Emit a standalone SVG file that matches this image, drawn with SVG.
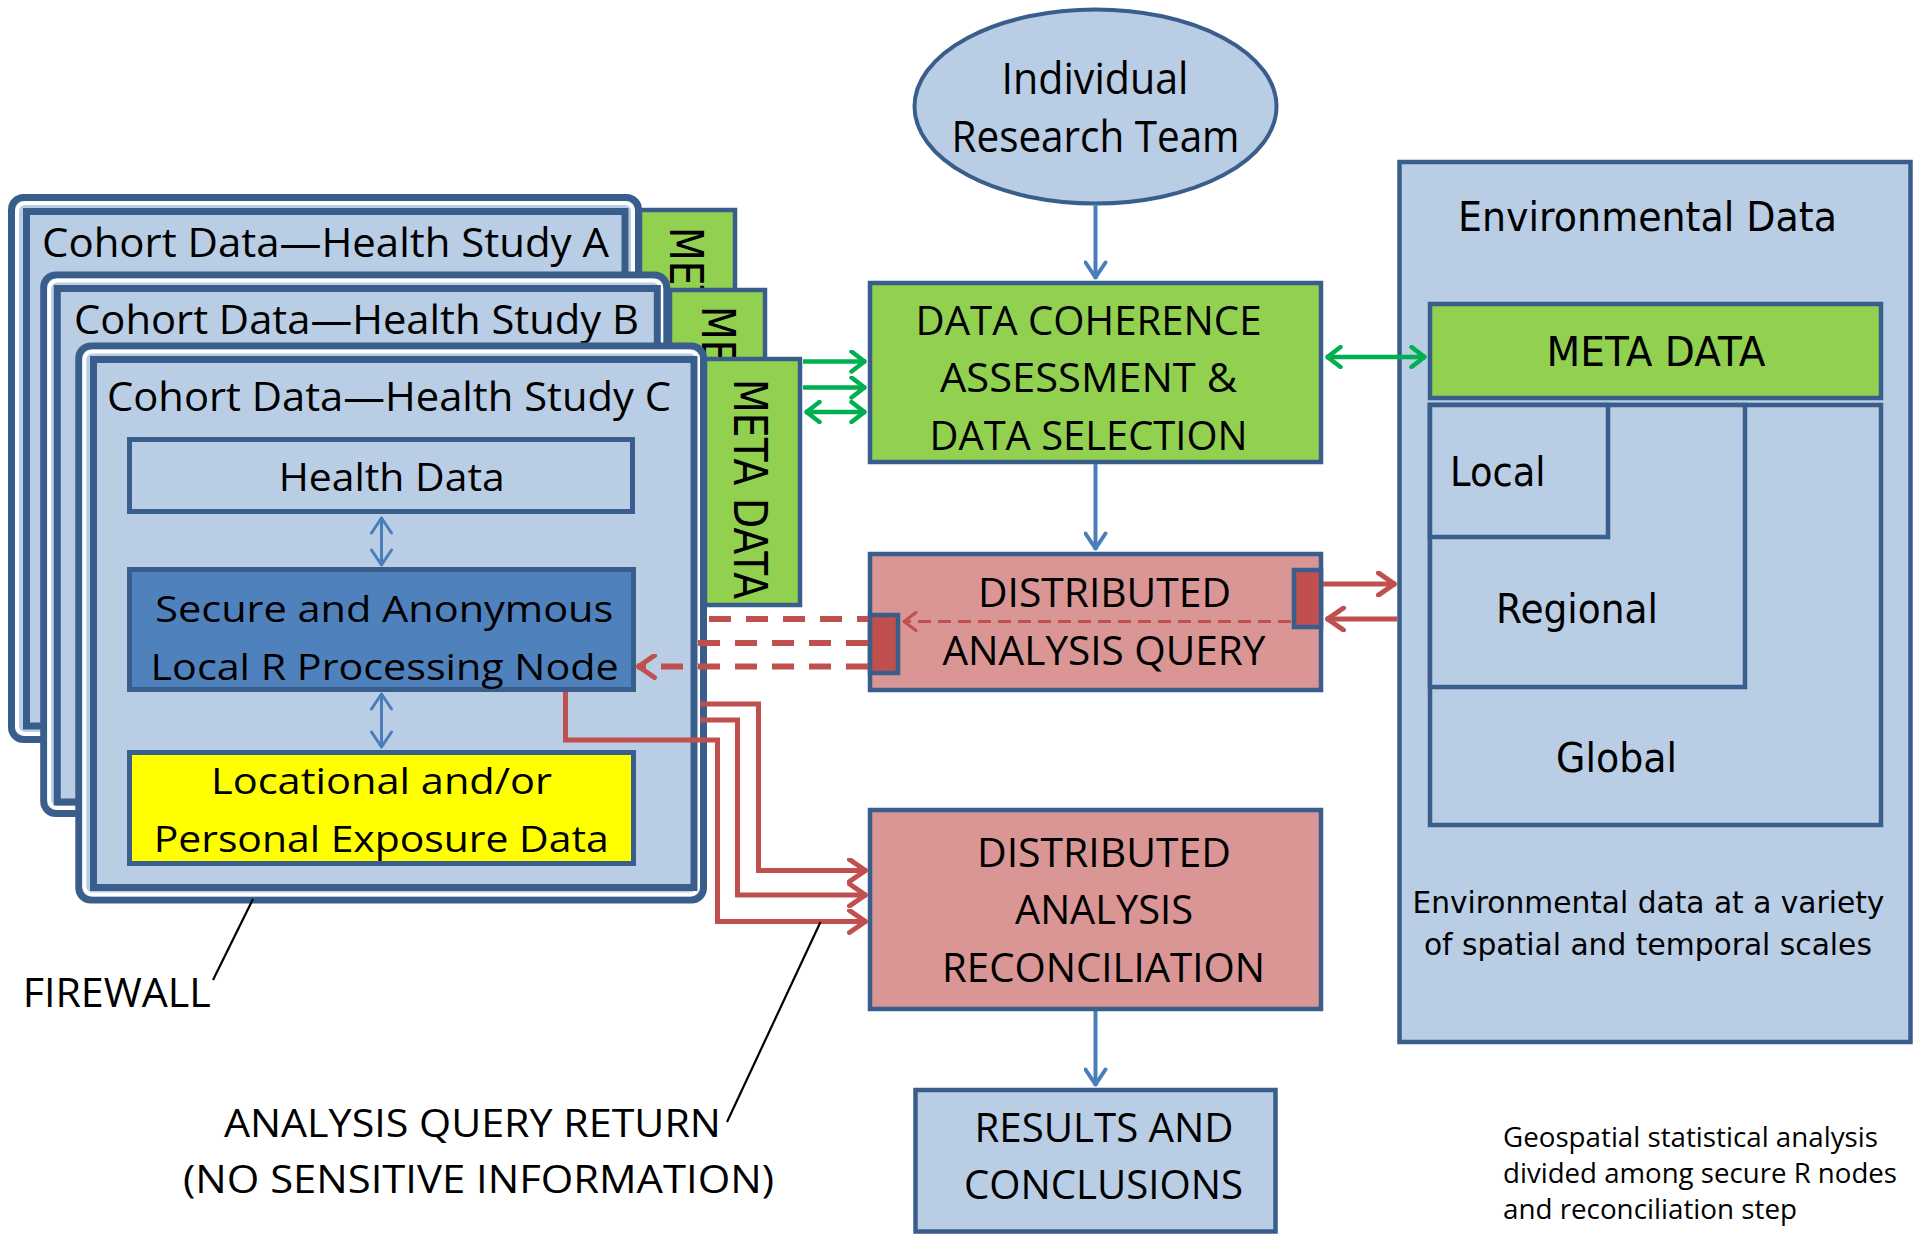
<svg xmlns="http://www.w3.org/2000/svg" width="1915" height="1237" viewBox="0 0 1915 1237">
<style>
.box{stroke:#3A5E8C;stroke-width:4.5}
.lb{fill:#B9CDE5}
.gr{fill:#92D050}
.pk{fill:#D99694}
.dr{fill:#C0504D}
.sb{fill:#4F81BD}
.ye{fill:#FFFF00}
.t{font-family:'Open Sans',Lato,sans-serif;fill:#000}
.v{font-family:'DejaVu Sans',Verdana,sans-serif;fill:#000}
.c{text-anchor:middle}
.fo{fill:#B9CDE5;stroke:#3A5E8C;stroke-width:7}
.fw{fill:none;stroke:#FFFFFF;stroke-width:4}
.fi{fill:#B9CDE5;stroke:#3A5E8C;stroke-width:7}
.ab{stroke:#4A7EBB;stroke-width:4;fill:none}
.abs{stroke:#4A7EBB;stroke-width:3;fill:none}
.ag{stroke:#00B050;stroke-width:4.5;fill:none}
.ar{stroke:#C0504D;stroke-width:5;fill:none}
.ard{stroke:#C0504D;stroke-width:6;fill:none;stroke-dasharray:22 15}
.art{stroke:#C0504D;stroke-width:3;fill:none;stroke-dasharray:13 7}
.ak{stroke:#000;stroke-width:2.2;fill:none}
</style>
<defs>
<marker id="mb" markerUnits="userSpaceOnUse" viewBox="0 0 24 24" refX="19.5" refY="12" markerWidth="24" markerHeight="24" orient="auto-start-reverse"><path d="M3,2 L18,12 L3,22" fill="none" stroke="#4A7EBB" stroke-width="4" stroke-linecap="round" stroke-linejoin="round"/></marker>
<marker id="mbs" markerUnits="userSpaceOnUse" viewBox="0 0 24 24" refX="19" refY="12" markerWidth="24" markerHeight="24" orient="auto-start-reverse"><path d="M3,2 L18,12 L3,22" fill="none" stroke="#4A7EBB" stroke-width="3" stroke-linecap="round" stroke-linejoin="round"/></marker>
<marker id="mg" markerUnits="userSpaceOnUse" viewBox="0 0 24 24" refX="19.5" refY="12" markerWidth="24" markerHeight="24" orient="auto-start-reverse"><path d="M5,2 L18,12 L5,22" fill="none" stroke="#00B050" stroke-width="4.5" stroke-linecap="round" stroke-linejoin="round"/></marker>
<marker id="mr" markerUnits="userSpaceOnUse" viewBox="0 0 26 26" refX="20.5" refY="13" markerWidth="26" markerHeight="26" orient="auto-start-reverse"><path d="M3,2 L19,13 L3,24" fill="none" stroke="#C0504D" stroke-width="5" stroke-linecap="round" stroke-linejoin="round"/></marker>
<marker id="mrt" markerUnits="userSpaceOnUse" viewBox="0 0 24 24" refX="18" refY="12" markerWidth="24" markerHeight="24" orient="auto-start-reverse"><path d="M5,3 L17,12 L5,21" fill="none" stroke="#C0504D" stroke-width="3" stroke-linecap="round" stroke-linejoin="round"/></marker>
</defs>
<rect x="0" y="0" width="1915" height="1237" fill="#FFFFFF"/>

<g id="meta-a">
<rect x="640" y="210" width="95" height="300" class="box gr"/>
<text class="v" font-size="46" transform="translate(670,227) rotate(90)" textLength="220" lengthAdjust="spacingAndGlyphs">META DATA</text>
</g>
<g id="study-a">
<rect x="11.5" y="197.5" width="627" height="542" rx="12" class="fo"/>
<rect x="17" y="203" width="616" height="531" rx="8" class="fw"/>
<rect x="26.5" y="211.5" width="598.5" height="514.5" class="fi"/>
<text x="42" y="257" class="t" font-size="41" textLength="567" lengthAdjust="spacingAndGlyphs">Cohort Data—Health Study A</text>
</g>
<g id="meta-b">
<rect x="670" y="290" width="95" height="247" class="box gr"/>
<text class="v" font-size="46" transform="translate(701.5,306) rotate(90)" textLength="220" lengthAdjust="spacingAndGlyphs">META DATA</text>
</g>
<g id="study-b">
<rect x="43.7" y="275" width="623" height="538.5" rx="12" class="fo"/>
<rect x="49.2" y="280.5" width="612" height="527.5" rx="8" class="fw"/>
<rect x="57.3" y="288.5" width="600" height="513.5" class="fi"/>
<text x="74" y="333.5" class="t" font-size="41" textLength="565" lengthAdjust="spacingAndGlyphs">Cohort Data—Health Study B</text>
</g>
<g id="meta-c">
<rect x="705" y="359" width="95" height="246" class="box gr"/>
<text class="v" font-size="46" transform="translate(733.5,379) rotate(90)" textLength="220" lengthAdjust="spacingAndGlyphs">META DATA</text>
</g>
<g id="study-c">
<rect x="78.8" y="346" width="624.7" height="554" rx="12" class="fo"/>
<rect x="84.3" y="351.5" width="613.7" height="543" rx="8" class="fw"/>
<rect x="93.5" y="359.5" width="600.5" height="528" class="fi"/>
<text x="107" y="410.5" class="t" font-size="41" textLength="564" lengthAdjust="spacingAndGlyphs">Cohort Data—Health Study C</text>
</g>
<g id="health-data">
<rect x="129.5" y="439.5" width="503" height="72" class="lb" stroke="#3A5E8C" stroke-width="5"/>
<text x="391.7" y="491" class="t c" font-size="38.5" textLength="226" lengthAdjust="spacingAndGlyphs">Health Data</text>
</g>
<g id="secure-node">
<rect x="129.5" y="569.5" width="504" height="120" class="sb" stroke="#3A5E8C" stroke-width="5"/>
<text x="384.3" y="622" class="t c" font-size="37" textLength="458" lengthAdjust="spacingAndGlyphs">Secure and Anonymous</text>
<text x="384.6" y="680" class="t c" font-size="37" textLength="468" lengthAdjust="spacingAndGlyphs">Local R Processing Node</text>
</g>
<g id="locational-data">
<rect x="129.5" y="752.5" width="504" height="111" class="ye" stroke="#3A5E8C" stroke-width="5"/>
<text x="381.5" y="793.5" class="t c" font-size="37" textLength="341" lengthAdjust="spacingAndGlyphs">Locational and/or</text>
<text x="381.2" y="852" class="t c" font-size="37" textLength="455" lengthAdjust="spacingAndGlyphs">Personal Exposure Data</text>
</g>

<g id="research-team">
<ellipse cx="1095.5" cy="106.5" rx="181" ry="97" class="lb" stroke="#3A5E8C" stroke-width="4"/>
<text x="1095" y="94" class="t c" font-size="43" textLength="187" lengthAdjust="spacingAndGlyphs">Individual</text>
<text x="1095.5" y="152" class="t c" font-size="43" textLength="288" lengthAdjust="spacingAndGlyphs">Research Team</text>
</g>
<g id="data-coherence">
<rect x="870" y="283" width="451" height="179" class="box gr"/>
<text x="1088.5" y="335" class="t c" font-size="39.5" textLength="346" lengthAdjust="spacingAndGlyphs">DATA COHERENCE</text>
<text x="1088.5" y="392" class="t c" font-size="39.5" textLength="297" lengthAdjust="spacingAndGlyphs">ASSESSMENT &amp;</text>
<text x="1088.5" y="450" class="t c" font-size="39.5" textLength="318" lengthAdjust="spacingAndGlyphs">DATA SELECTION</text>
</g>
<g id="analysis-query">
<rect x="870" y="554" width="451" height="136" class="box pk"/>
<rect x="870" y="615" width="28" height="58" class="box dr"/>
<rect x="1294" y="570" width="27" height="57" class="box dr"/>
<text x="1104.5" y="606.5" class="t c" font-size="39.5" textLength="253" lengthAdjust="spacingAndGlyphs">DISTRIBUTED</text>
<text x="1104" y="665" class="t c" font-size="39.5" textLength="323" lengthAdjust="spacingAndGlyphs">ANALYSIS QUERY</text>
</g>
<g id="analysis-reconciliation">
<rect x="870" y="810" width="451" height="199" class="box pk"/>
<text x="1104" y="867" class="t c" font-size="39.5" textLength="254" lengthAdjust="spacingAndGlyphs">DISTRIBUTED</text>
<text x="1104" y="924" class="t c" font-size="39.5" textLength="178" lengthAdjust="spacingAndGlyphs">ANALYSIS</text>
<text x="1103.5" y="981.5" class="t c" font-size="39.5" textLength="323" lengthAdjust="spacingAndGlyphs">RECONCILIATION</text>
</g>
<g id="results">
<rect x="915.5" y="1090" width="360" height="141.5" class="box lb"/>
<text x="1104" y="1141.5" class="t c" font-size="39.5" textLength="259" lengthAdjust="spacingAndGlyphs">RESULTS AND</text>
<text x="1103.5" y="1199" class="t c" font-size="39.5" textLength="279" lengthAdjust="spacingAndGlyphs">CONCLUSIONS</text>
</g>
<g id="environmental-data">
<rect x="1399.5" y="162" width="511" height="880" class="box lb"/>
<text x="1647.5" y="231" class="v c" font-size="41" textLength="379" lengthAdjust="spacingAndGlyphs">Environmental Data</text>
<g id="env-meta-data">
<rect x="1430" y="304" width="451" height="94" class="box gr"/>
<text x="1656" y="365.5" class="v c" font-size="41" textLength="219" lengthAdjust="spacingAndGlyphs">META DATA</text>
</g>
<g id="env-global">
<rect x="1430" y="405" width="451" height="420" class="box lb"/>
<text x="1556" y="772" class="v" font-size="41" textLength="121" lengthAdjust="spacingAndGlyphs">Global</text>
</g>
<g id="env-regional">
<rect x="1430" y="405" width="315" height="282" class="box lb"/>
<text x="1496" y="622.5" class="v" font-size="41" textLength="162" lengthAdjust="spacingAndGlyphs">Regional</text>
</g>
<g id="env-local">
<rect x="1430" y="405" width="178" height="132" class="box lb"/>
<text x="1450" y="486" class="v" font-size="41" textLength="95.5" lengthAdjust="spacingAndGlyphs">Local</text>
</g>
<text x="1648.4" y="913" class="v c" font-size="30" textLength="472" lengthAdjust="spacingAndGlyphs">Environmental data at a variety</text>
<text x="1647.9" y="955" class="v c" font-size="30" textLength="448" lengthAdjust="spacingAndGlyphs">of spatial and temporal scales</text>
</g>

<g id="connectors">
<line x1="1095.5" y1="204" x2="1095.5" y2="279" class="ab" marker-end="url(#mb)"/>
<line x1="1095.5" y1="464" x2="1095.5" y2="550" class="ab" marker-end="url(#mb)"/>
<line x1="1095.5" y1="1011" x2="1095.5" y2="1086" class="ab" marker-end="url(#mb)"/>
<line x1="381.5" y1="517" x2="381.5" y2="566" class="abs" marker-start="url(#mbs)" marker-end="url(#mbs)"/>
<line x1="381.5" y1="693" x2="381.5" y2="748" class="abs" marker-start="url(#mbs)" marker-end="url(#mbs)"/>
<line x1="803" y1="361.5" x2="866" y2="361.5" class="ag" marker-end="url(#mg)"/>
<line x1="803" y1="387.5" x2="866" y2="387.5" class="ag" marker-end="url(#mg)"/>
<line x1="805" y1="412" x2="866" y2="412" class="ag" marker-start="url(#mg)" marker-end="url(#mg)"/>
<line x1="1326" y1="357" x2="1426" y2="357" class="ag" marker-start="url(#mg)" marker-end="url(#mg)"/>
<line x1="1323" y1="584" x2="1396" y2="584" class="ar" marker-end="url(#mr)"/>
<line x1="1397" y1="619" x2="1326" y2="619" class="ar" marker-end="url(#mr)"/>
<line x1="1291" y1="621.5" x2="903" y2="621.5" class="art" marker-end="url(#mrt)"/>
<line x1="709" y1="619" x2="868" y2="619" class="ard"/>
<line x1="698" y1="643" x2="868" y2="643" class="ard"/>
<line x1="868" y1="666.5" x2="637" y2="666.5" class="ard" marker-end="url(#mr)"/>
<path d="M565.5,692 V740 H717.5 V921.5 H867" class="ar" marker-end="url(#mr)"/>
<path d="M700,720 H737.5 V895 H867" class="ar" marker-end="url(#mr)"/>
<path d="M700,704 H758.5 V870.5 H867" class="ar" marker-end="url(#mr)"/>
<line x1="213" y1="980" x2="253" y2="899" class="ak"/>
<line x1="727" y1="1122" x2="820.5" y2="922" class="ak"/>
</g>

<g id="labels">
<text x="22.7" y="1007" class="t" font-size="40" textLength="188" lengthAdjust="spacingAndGlyphs">FIREWALL</text>
<text x="472.4" y="1137" class="t c" font-size="38" textLength="497" lengthAdjust="spacingAndGlyphs">ANALYSIS QUERY RETURN</text>
<text x="478.5" y="1193" class="t c" font-size="38" textLength="591" lengthAdjust="spacingAndGlyphs">(NO SENSITIVE INFORMATION)</text>
<text x="1503" y="1146.5" class="t" font-size="26.5" textLength="375" lengthAdjust="spacingAndGlyphs">Geospatial statistical analysis</text>
<text x="1503" y="1183" class="t" font-size="26.5" textLength="394" lengthAdjust="spacingAndGlyphs">divided among secure R nodes</text>
<text x="1503" y="1219" class="t" font-size="26.5" textLength="294" lengthAdjust="spacingAndGlyphs">and reconciliation step</text>
</g>
</svg>
